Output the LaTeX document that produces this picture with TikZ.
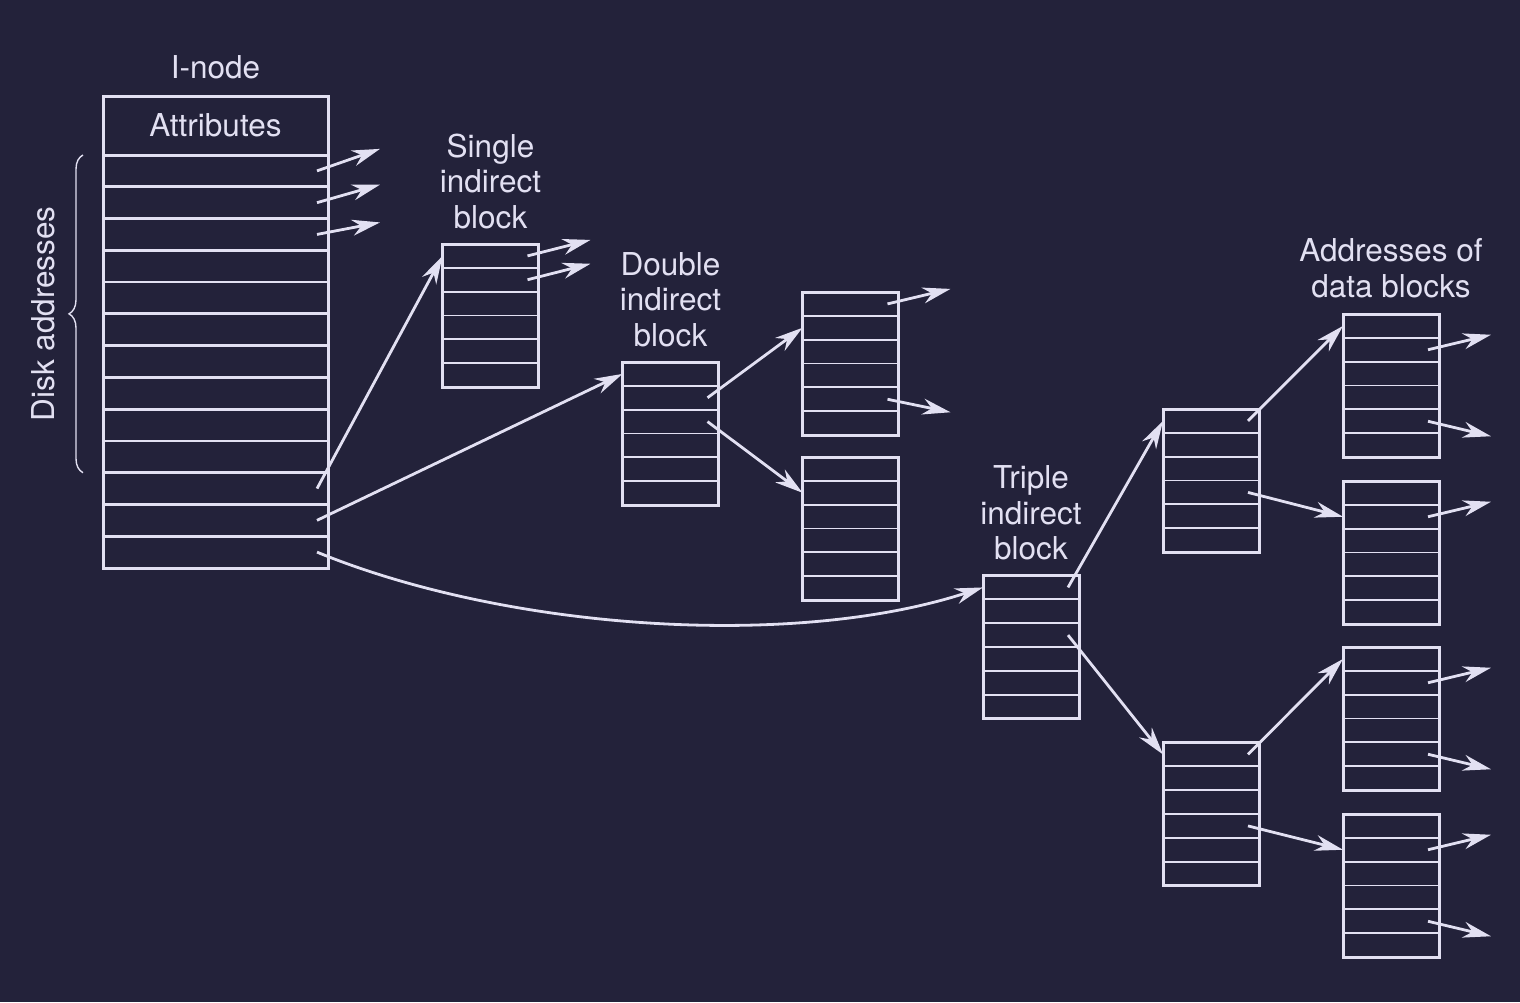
\documentclass[tikz,border=0pt]{standalone}
\usepackage{fontspec}
\setmainfont{TeX Gyre Heros}
\usetikzlibrary{arrows.meta}
\usetikzlibrary{calc}
\usetikzlibrary{positioning}
\usetikzlibrary{decorations.pathreplacing}
\definecolor{bgc}{HTML}{23223A}
\definecolor{fgc}{HTML}{E2E0F2}
\tikzset{blk/.style = {draw=fgc, line width=1.5pt, outer sep=0, inner sep=0, minimum width=48pt, minimum height=71.5pt}}
\tikzset{irow/.style = {fgc, line width=1.4pt}}
\tikzset{brow/.style = {fgc, line width=0.9pt}}
\tikzset{ptr/.style = {fgc, line width=1.4pt, -{Stealth[length=14pt, width=8pt, inset=4.5pt]}}}
\tikzset{lbl/.style = {text=fgc, font=\fontsize{15.75pt}{17.75pt}\selectfont, align=center, inner sep=0}}

\begin{document}
\begin{tikzpicture}[x=0.5pt, y=-0.5pt]
      \fill[bgc] (0,0) rectangle (1520,1002);
      \useasboundingbox (0,0) rectangle (1520,1002);

      % i-node
      \node[lbl, blk, minimum width=112.5pt, minimum height=29.5pt] (attr) at (215.5,125.5) {Attributes};
      \node[blk, minimum width=112.5pt, minimum height=206.5pt, below=0pt of attr] (addr) {};
      \node[lbl, above=8.5pt of attr] (ilbl) {I-node};

      % indirect blocks
      \node[blk] (sgl) at (490.5,315.5) {};
      \node[blk] (dbl) at (670.5,433.5) {};
      \node[blk] (dbla) at (850.5,363.5) {};
      \node[blk] (dblb) at (850.5,528.5) {};
      \node[blk] (tri) at (1031,647) {};
      \node[blk] (tria) at (1211,480.5) {};
      \node[blk] (trib) at (1211,814) {};
      \node[blk] (data1) at (1391,385.5) {};
      \node[blk] (data2) at (1391,552.5) {};
      \node[blk] (data3) at (1391,718.5) {};
      \node[blk] (data4) at (1391,885.5) {};

      \node[lbl, above=7.5pt of sgl] (sgllbl) {Single\\indirect\\block};
      \node[lbl, above=7.5pt of dbl] (dbllbl) {Double\\indirect\\block};
      \node[lbl, above=7.5pt of tri] (trilbl) {Triple\\indirect\\block};
      \node[lbl, above=8pt of data1] (datalbl) {Addresses of\\data blocks};

      % rows and their pointer ends
      \foreach \b/\n/\s in {addr/13/irow, sgl/6/brow, dbl/6/brow, dbla/6/brow, dblb/6/brow,
                            tri/6/brow, tria/6/brow, trib/6/brow,
                            data1/6/brow, data2/6/brow, data3/6/brow, data4/6/brow} {
        \foreach \i [evaluate=\i as \f using (\i-0.5)/\n] in {1,...,\n} {
          \coordinate (\b-l\i) at ($(\b.north west)!\f!(\b.south west)$);
          \coordinate (\b-r\i) at ($(\b.north east)!\f!(\b.south east)+(-11,0)$);
        }
        \pgfmathtruncatemacro\m{\n-1}
        \foreach \i [evaluate=\i as \f using \i/\n] in {1,...,\m} {
          \draw[\s] ($(\b.north west)!\f!(\b.south west)$) -- ($(\b.north east)!\f!(\b.south east)$);
        }
      }

      % disk addresses brace
      \coordinate (brtop) at ($(addr.north west)+(-20,0)$);
      \coordinate (brbot) at ($(addr.north west)!10/13!(addr.south west)+(-20,0)$);
      \draw[fgc, line width=0.7pt, decorate, decoration={brace, amplitude=7pt}] (brbot) -- (brtop);
      \node[lbl, rotate=90] (dsklbl) at ($(brtop)!0.5!(brbot)+(-40,0)$) {Disk addresses};

      % loose pointers
      \foreach \b/\i/\e in {addr/1/-22, addr/2/-18, addr/3/-12, sgl/1/-16, sgl/2/-16,
                            dbla/1/-15, dbla/5/13, data1/2/-15, data1/5/15, data2/2/-15,
                            data3/2/-15, data3/5/15, data4/2/-15, data4/5/15} {
        \coordinate (\b-o\i) at ($(\b-r\i)+(63,\e)$);
        \draw[ptr] (\b-r\i) -- (\b-o\i);
      }

      % block to block
      \draw[ptr] (addr-r11) -- (sgl-l1);
      \draw[ptr] (addr-r12) -- (dbl-l1);
      \draw[ptr] (addr-r13) .. controls +(190,78) and +(-190,62) .. (tri-l1);
      \foreach \a/\b in {dbl-r2/dbla-l2, dbl-r3/dblb-l2, tri-r1/tria-l1, tri-r3/trib-l1,
                         tria-r1/data1-l1, tria-r4/data2-l2, trib-r1/data3-l1, trib-r4/data4-l2} {
        \draw[ptr] (\a) -- (\b);
      }

    \end{tikzpicture}
\end{document}
